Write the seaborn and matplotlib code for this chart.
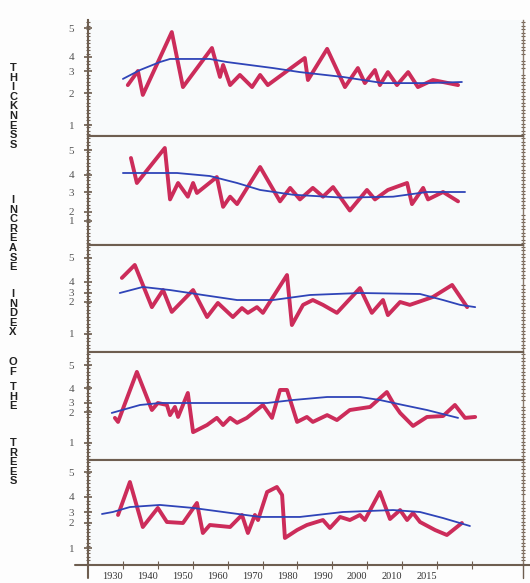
import numpy as np
import matplotlib
matplotlib.use("Agg")
import matplotlib.pyplot as plt
import seaborn as sns
from matplotlib.ticker import FixedLocator
from matplotlib.transforms import ScaledTranslation
from matplotlib.lines import Line2D

# Year ticks along the bottom axis (the printed chart labels the 2020 tick "2015")
year_ticks = [1930, 1940, 1950, 1960, 1970, 1980, 1990, 2000, 2010, 2020, 2030]
year_labels = ["1930", "1940", "1950", "1960", "1970", "1980", "1990", "2000", "2010", "2015", ""]
index_ticks = [1, 2, 3, 4, 5]

# Panel 1
red_years_1 = [1931.4, 1934.3, 1935.7, 1944.0, 1947.2, 1955.5, 1957.8, 1958.7, 1960.7, 1963.5, 1967.0,
               1969.3, 1971.5, 1982.1, 1983.0, 1988.5, 1993.6, 1997.3, 1999.3, 2002.2, 2003.6, 2005.9,
               2008.5, 2011.7, 2014.5, 2018.8, 2026.0]
red_vals_1 = [2.36, 3.0, 1.94, 4.86, 2.27, 4.31, 2.73, 3.43, 2.36, 2.82, 2.27,
              2.82, 2.36, 3.93, 2.59, 4.28, 2.27, 3.21, 2.45, 3.07, 2.36, 2.95,
              2.36, 2.95, 2.27, 2.59, 2.36]
blue_years_1 = [1930.0, 1934.9, 1940.6, 1943.5, 1954.9, 1959.8, 1973.0, 1980.7, 1993.0, 2004.5, 2017.1, 2027.1]
blue_vals_1 = [2.64, 3.07, 3.64, 3.86, 3.86, 3.64, 3.21, 2.95, 2.73, 2.45, 2.45, 2.5]

# Panel 2
red_years_2 = [1932.3, 1934.0, 1942.0, 1943.5, 1945.8, 1948.6, 1950.1, 1951.2, 1956.9, 1958.7, 1960.7,
               1962.7, 1969.3, 1975.0, 1977.9, 1980.7, 1984.4, 1987.3, 1990.2, 1995.0, 1999.9, 2002.2,
               2005.9, 2011.4, 2012.8, 2016.0, 2017.4, 2021.7, 2026.0]
red_vals_2 = [4.68, 3.53, 5.08, 2.62, 3.53, 2.76, 3.53, 2.95, 3.88, 2.24, 2.76,
              2.38, 4.32, 2.52, 3.24, 2.62, 3.24, 2.76, 3.29, 2.05, 3.12, 2.62,
              3.12, 3.53, 2.38, 3.24, 2.62, 3.0, 2.52]
blue_years_2 = [1930.0, 1945.5, 1954.9, 1962.7, 1969.3, 1978.7, 1993.0, 2007.4, 2017.1, 2028.0]
blue_vals_2 = [4.08, 4.08, 3.94, 3.53, 3.12, 2.86, 2.71, 2.76, 3.0, 3.0]

# Panel 3
red_years_3 = [1929.7, 1933.4, 1938.3, 1941.5, 1944.0, 1950.1, 1954.1, 1957.2, 1961.5, 1964.1, 1965.8,
               1968.4, 1970.1, 1977.0, 1978.4, 1981.6, 1984.4, 1987.3, 1991.3, 1997.9, 2001.3, 2004.5,
               2005.9, 2009.4, 2012.2, 2018.8, 2024.3, 2028.6]
red_vals_3 = [4.17, 4.71, 1.84, 3.27, 1.69, 3.27, 1.53, 1.97, 1.53, 1.81, 1.66,
              1.84, 1.66, 4.29, 1.28, 1.91, 2.22, 1.91, 1.66, 3.45, 1.66, 2.22,
              1.59, 2.0, 1.91, 2.56, 3.73, 1.84]
blue_years_3 = [1929.1, 1935.7, 1943.5, 1952.9, 1962.7, 1973.0, 1983.6, 1997.9, 2015.1, 2021.7, 2026.6, 2030.9]
blue_vals_3 = [3.0, 3.55, 3.27, 2.78, 2.22, 2.22, 2.78, 3.0, 2.89, 2.22, 1.91, 1.84]

# Panel 4
red_years_4 = [1927.7, 1928.6, 1934.0, 1938.3, 1940.0, 1942.6, 1943.5, 1944.9, 1945.8, 1948.6, 1950.1,
               1954.1, 1956.9, 1958.7, 1960.7, 1962.7, 1965.5, 1970.1, 1972.7, 1975.0, 1977.0, 1979.9,
               1982.7, 1984.4, 1988.5, 1991.3, 1995.0, 2000.8, 2005.6, 2007.4, 2009.4, 2013.1, 2017.1,
               2021.7, 2025.1, 2028.0, 2030.9]
red_vals_4 = [1.81, 1.68, 4.70, 2.22, 3.0, 2.78, 1.90, 2.56, 1.84, 3.67, 1.35,
              1.58, 1.81, 1.58, 1.81, 1.65, 1.81, 2.78, 1.81, 3.87, 3.87, 1.68,
              1.84, 1.68, 1.90, 1.74, 2.22, 2.56, 3.73, 3.0, 1.97, 1.55, 1.84,
              1.87, 2.78, 1.81, 1.84]
blue_years_4 = [1926.8, 1934.9, 1940.6, 1971.3, 1978.7, 1988.5, 1997.9, 2003.6, 2010.2, 2017.1, 2026.0]
blue_vals_4 = [1.97, 2.78, 3.0, 3.0, 3.2, 3.4, 3.4, 3.2, 2.78, 2.22, 1.81]

# Panel 5
red_years_5 = [1928.6, 1932.0, 1935.7, 1940.0, 1942.6, 1947.2, 1951.2, 1952.9, 1954.9, 1960.7, 1964.1,
               1965.8, 1967.8, 1968.7, 1971.3, 1974.1, 1975.6, 1976.4, 1979.9, 1982.7, 1987.3, 1989.3,
               1992.2, 1995.0, 1997.9, 1999.3, 2003.6, 2006.5, 2009.4, 2011.4, 2013.1, 2015.1, 2019.4,
               2022.8, 2027.1]
red_vals_5 = [2.73, 4.60, 1.84, 3.27, 2.09, 2.0, 3.6, 1.6, 1.92, 1.84, 2.73,
              1.6, 2.73, 2.27, 4.2, 4.4, 4.08, 1.4, 1.72, 1.92, 2.27, 1.80,
              2.55, 2.27, 2.73, 2.27, 4.2, 2.36, 3.13, 2.27, 2.91, 2.09, 1.72,
              1.52, 2.0]
blue_years_5 = [1924.0, 1927.1, 1932.0, 1940.6, 1950.1, 1969.3, 1980.7, 1993.0, 2007.4, 2015.1, 2021.7, 2029.4]
blue_vals_5 = [2.82, 3.0, 3.33, 3.47, 3.27, 2.55, 2.55, 3.0, 3.13, 3.0, 2.45, 1.88]

red_series = [(red_years_1, red_vals_1), (red_years_2, red_vals_2), (red_years_3, red_vals_3),
              (red_years_4, red_vals_4), (red_years_5, red_vals_5)]
blue_series = [(blue_years_1, blue_vals_1), (blue_years_2, blue_vals_2), (blue_years_3, blue_vals_3),
               (blue_years_4, blue_vals_4), (blue_years_5, blue_vals_5)]

# Layout: the printed y labels are unevenly spaced, so each panel gets its own
# piecewise-linear scale (pixel row of each label 1..5 in the 530x583 image)
label_rows = [[125, 93, 71, 57, 28],
              [221, 211.5, 192, 175, 150],
              [334, 302, 293, 282, 258],
              [443, 412, 403, 388, 365],
              [548, 523, 512, 497, 472]]
panel_rows = [(20, 136), (136, 245), (245, 352), (352, 460), (460, 565)]
W, H = 530, 583
LEFT, RIGHT = 88, 523
BROWN = "#6e5e50"
RED = "#cc2c5a"
BLUE = "#2f44b8"


def make_scale(rows):
    vals = np.array(index_ticks, float)
    pos = -np.asarray(rows, float)

    def fwd(v):
        v = np.asarray(v, float)
        out = np.interp(v, vals, pos)
        out = np.where(v < 1, pos[0] + (v - 1) * (pos[1] - pos[0]), out)
        out = np.where(v > 5, pos[4] + (v - 5) * (pos[4] - pos[3]), out)
        return out

    def inv(p):
        p = np.asarray(p, float)
        out = np.interp(p, pos, vals)
        out = np.where(p < pos[0], 1 + (p - pos[0]) / (pos[1] - pos[0]), out)
        out = np.where(p > pos[4], 5 + (p - pos[4]) / (pos[4] - pos[3]), out)
        return out

    return fwd, inv


sns.set_style("white")
plt.rcParams["font.family"] = ["Liberation Serif", "DejaVu Serif"]

fig = plt.figure(figsize=(W / 100, H / 100), dpi=100)
fig.patch.set_facecolor("#fdfdfd")

axes = []
for i, (top, bottom) in enumerate(panel_rows):
    ax = fig.add_axes([LEFT / W, 1 - bottom / H, (RIGHT - LEFT) / W, (bottom - top) / H])
    ax.set_facecolor("#f8fafb")
    fwd, inv = make_scale(label_rows[i])
    ax.set_yscale("function", functions=(fwd, inv))

    years, vals = red_series[i]
    sns.lineplot(x=years, y=vals, ax=ax, color=RED, lw=2.8, sort=False,
                 estimator=None, solid_joinstyle="round", solid_capstyle="round", zorder=3)
    years, vals = blue_series[i]
    sns.lineplot(x=years, y=vals, ax=ax, color=BLUE, lw=1.3, sort=False,
                 estimator=None, zorder=4)

    ax.set_xlim(1920, 2044.6)
    ax.set_ylim(float(inv(-bottom)), float(inv(-top)))
    ax.set_yticks(index_ticks)
    ax.set_yticklabels([str(t) for t in index_ticks])
    ax.yaxis.set_minor_locator(FixedLocator(inv(-np.arange(top + 2, bottom, 3.5))))
    ax.tick_params(axis="y", which="major", direction="inout", length=6, width=1.2,
                   color=BROWN, labelsize=8, labelcolor="#555555", pad=7, left=True)
    ax.tick_params(axis="y", which="minor", direction="inout", length=3, width=0.8,
                   color=BROWN, left=True, right=True)
    ax.set_xlabel("")
    ax.set_ylabel("")
    for side in ["left", "top", "bottom"]:
        ax.spines[side].set_color(BROWN)
        ax.spines[side].set_linewidth(1.5)
    ax.spines["right"].set_color("#8a7a6c")
    ax.spines["right"].set_linewidth(1.0)
    axes.append(ax)

axes[0].spines["top"].set_visible(False)
for ax in axes[:-1]:
    ax.set_xticks([])

ax = axes[-1]
ax.set_xticks(year_ticks)
ax.set_xticklabels(year_labels)
ax.tick_params(axis="x", direction="inout", length=6, width=0.8, color=BROWN, bottom=True,
               labelsize=7.5, labelcolor="#333333", pad=2)
shift = ScaledTranslation(-0.1, 0, fig.dpi_scale_trans)
for lab in ax.get_xticklabels():
    lab.set_transform(lab.get_transform() + shift)

# ruler extensions of the axis lines past the corner
fig.add_artist(Line2D([LEFT / W, LEFT / W], [1 - 565 / H, 1 - 578 / H], color=BROWN, lw=1.5))
fig.add_artist(Line2D([75 / W, LEFT / W], [1 - 565 / H, 1 - 565 / H], color=BROWN, lw=1.5))
fig.add_artist(Line2D([RIGHT / W, 1.0], [1 - 565 / H, 1 - 565 / H], color=BROWN, lw=1.5))
fig.add_artist(Line2D([RIGHT / W, RIGHT / W], [1 - 565 / H, 1 - 578 / H], color=BROWN, lw=1.0))

# stacked vertical title
title_words = ["THICKNESS", "INCREASE", "INDEX", "OF", "THE", "TREES"]
word_rows = [68, 200, 294, 362, 387, 443]
for word, row in zip(title_words, word_rows):
    for k, ch in enumerate(word):
        fig.text(13 / W, 1 - (row + k * 9.6) / H, ch, ha="center", va="center",
                 family=["Liberation Sans", "DejaVu Sans"], fontweight="bold",
                 fontsize=8, color="#222222")

fig.savefig("out.png", dpi=100, facecolor=fig.get_facecolor())
